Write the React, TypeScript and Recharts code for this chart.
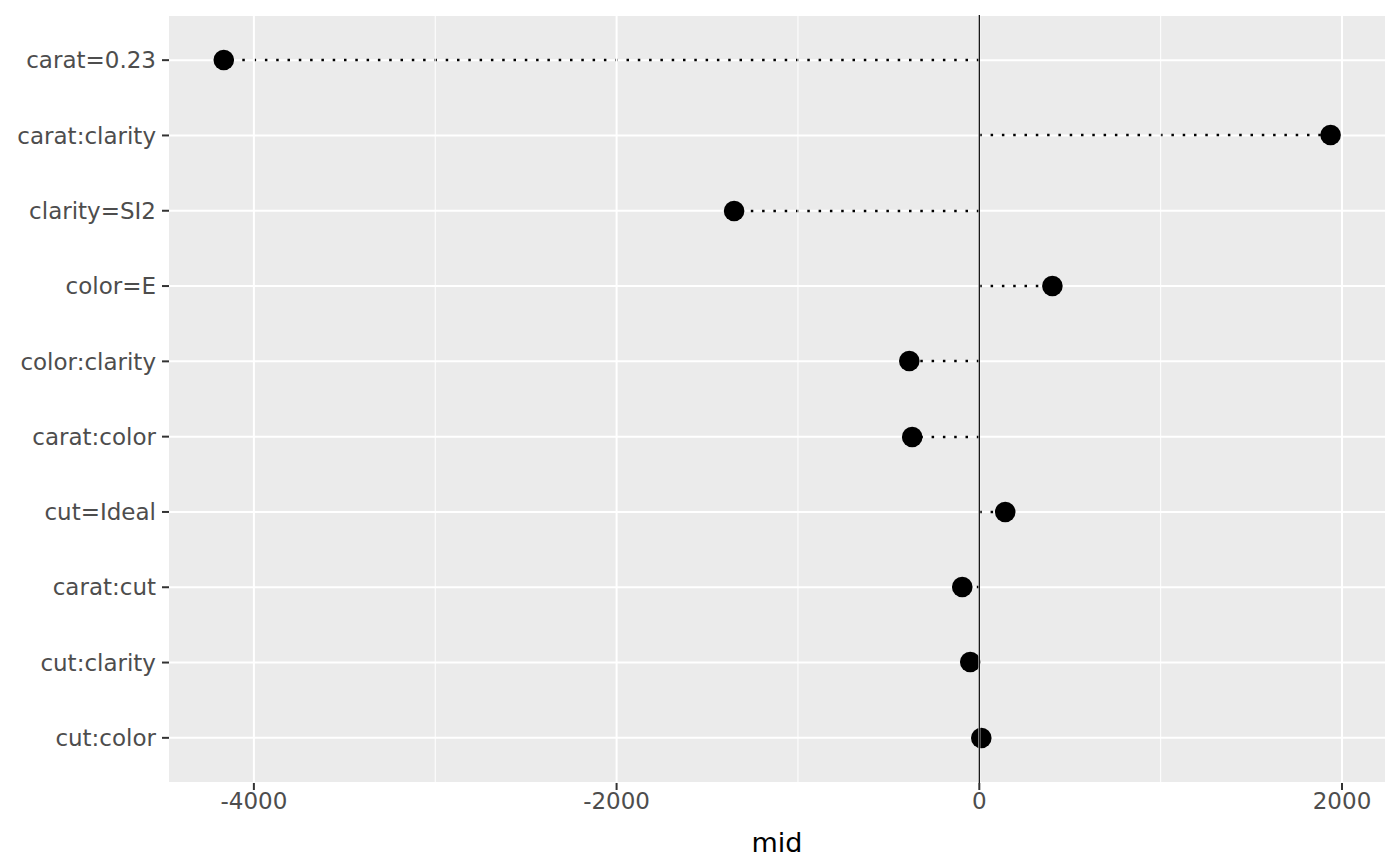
import {
  ComposedChart,
  Bar,
  XAxis,
  YAxis,
  CartesianGrid,
  ReferenceLine,
} from "recharts";

const terms = [
  "carat=0.23",
  "carat:clarity",
  "clarity=SI2",
  "color=E",
  "color:clarity",
  "carat:color",
  "cut=Ideal",
  "carat:cut",
  "cut:clarity",
  "cut:color",
];

const mids = [-4166, 1937, -1352, 403, -386, -370, 143, -94, -50, 11];

const xTicks = [-4000, -2000, 0, 2000];
const minorTicks = [-3000, -1000, 1000];

const chartData = terms.map((name, i) => ({ name, mid: mids[i] }));

const font = "'DejaVu Sans', Verdana, sans-serif";

// dotted segment from 0 to the value, with the point at the value end
function Lollipop(props: any) {
  const { x, y, width, height } = props;
  const cy = Math.round(y + height / 2);
  const end = x + width;
  return (
    <g>
      <line
        x1={x}
        x2={end}
        y1={cy}
        y2={cy}
        stroke="#000"
        strokeWidth={2.5}
        strokeDasharray="2.5 8.8"
      />
      <circle cx={end} cy={cy} r={10.3} fill="#000" />
    </g>
  );
}

export default function App() {
  return (
    <div style={{ position: "absolute", left: 0, top: 0, background: "#fff" }}>
      <ComposedChart
        width={1400}
        height={866}
        data={chartData}
        layout="vertical"
        margin={{ top: 15, right: 15, bottom: 0, left: 0 }}
      >
        <CartesianGrid
          fill="#EBEBEB"
          stroke="#fff"
          strokeWidth={2}
          vertical={false}
        />
        {minorTicks.map((t) => (
          <ReferenceLine key={t} x={t} stroke="#fff" strokeWidth={1} />
        ))}
        {xTicks.map((t) => (
          <ReferenceLine key={t} x={t} stroke="#fff" strokeWidth={2} />
        ))}
        <ReferenceLine x={0} stroke="#000" strokeWidth={1.2} />
        <XAxis
          type="number"
          dataKey="mid"
          domain={[-4468, 2237]}
          ticks={xTicks}
          allowDataOverflow
          height={83}
          axisLine={false}
          tickLine={{ stroke: "#333", strokeWidth: 2 }}
          tickSize={7}
          tickMargin={3}
          tick={{ fill: "#4d4d4d", fontSize: 23, fontFamily: font }}
          label={{
            value: "mid",
            position: "insideBottom",
            offset: 14,
            fill: "#000",
            fontSize: 27,
            fontFamily: font,
          }}
        />
        <YAxis
          type="category"
          dataKey="name"
          width={169}
          padding={{ top: 7.5, bottom: 7.5 }}
          axisLine={false}
          tickLine={{ stroke: "#333", strokeWidth: 2 }}
          tickSize={7}
          tickMargin={6}
          tick={{ fill: "#4d4d4d", fontSize: 23, fontFamily: font }}
        />
        <Bar dataKey="mid" shape={Lollipop} isAnimationActive={false} />
      </ComposedChart>
    </div>
  );
}
